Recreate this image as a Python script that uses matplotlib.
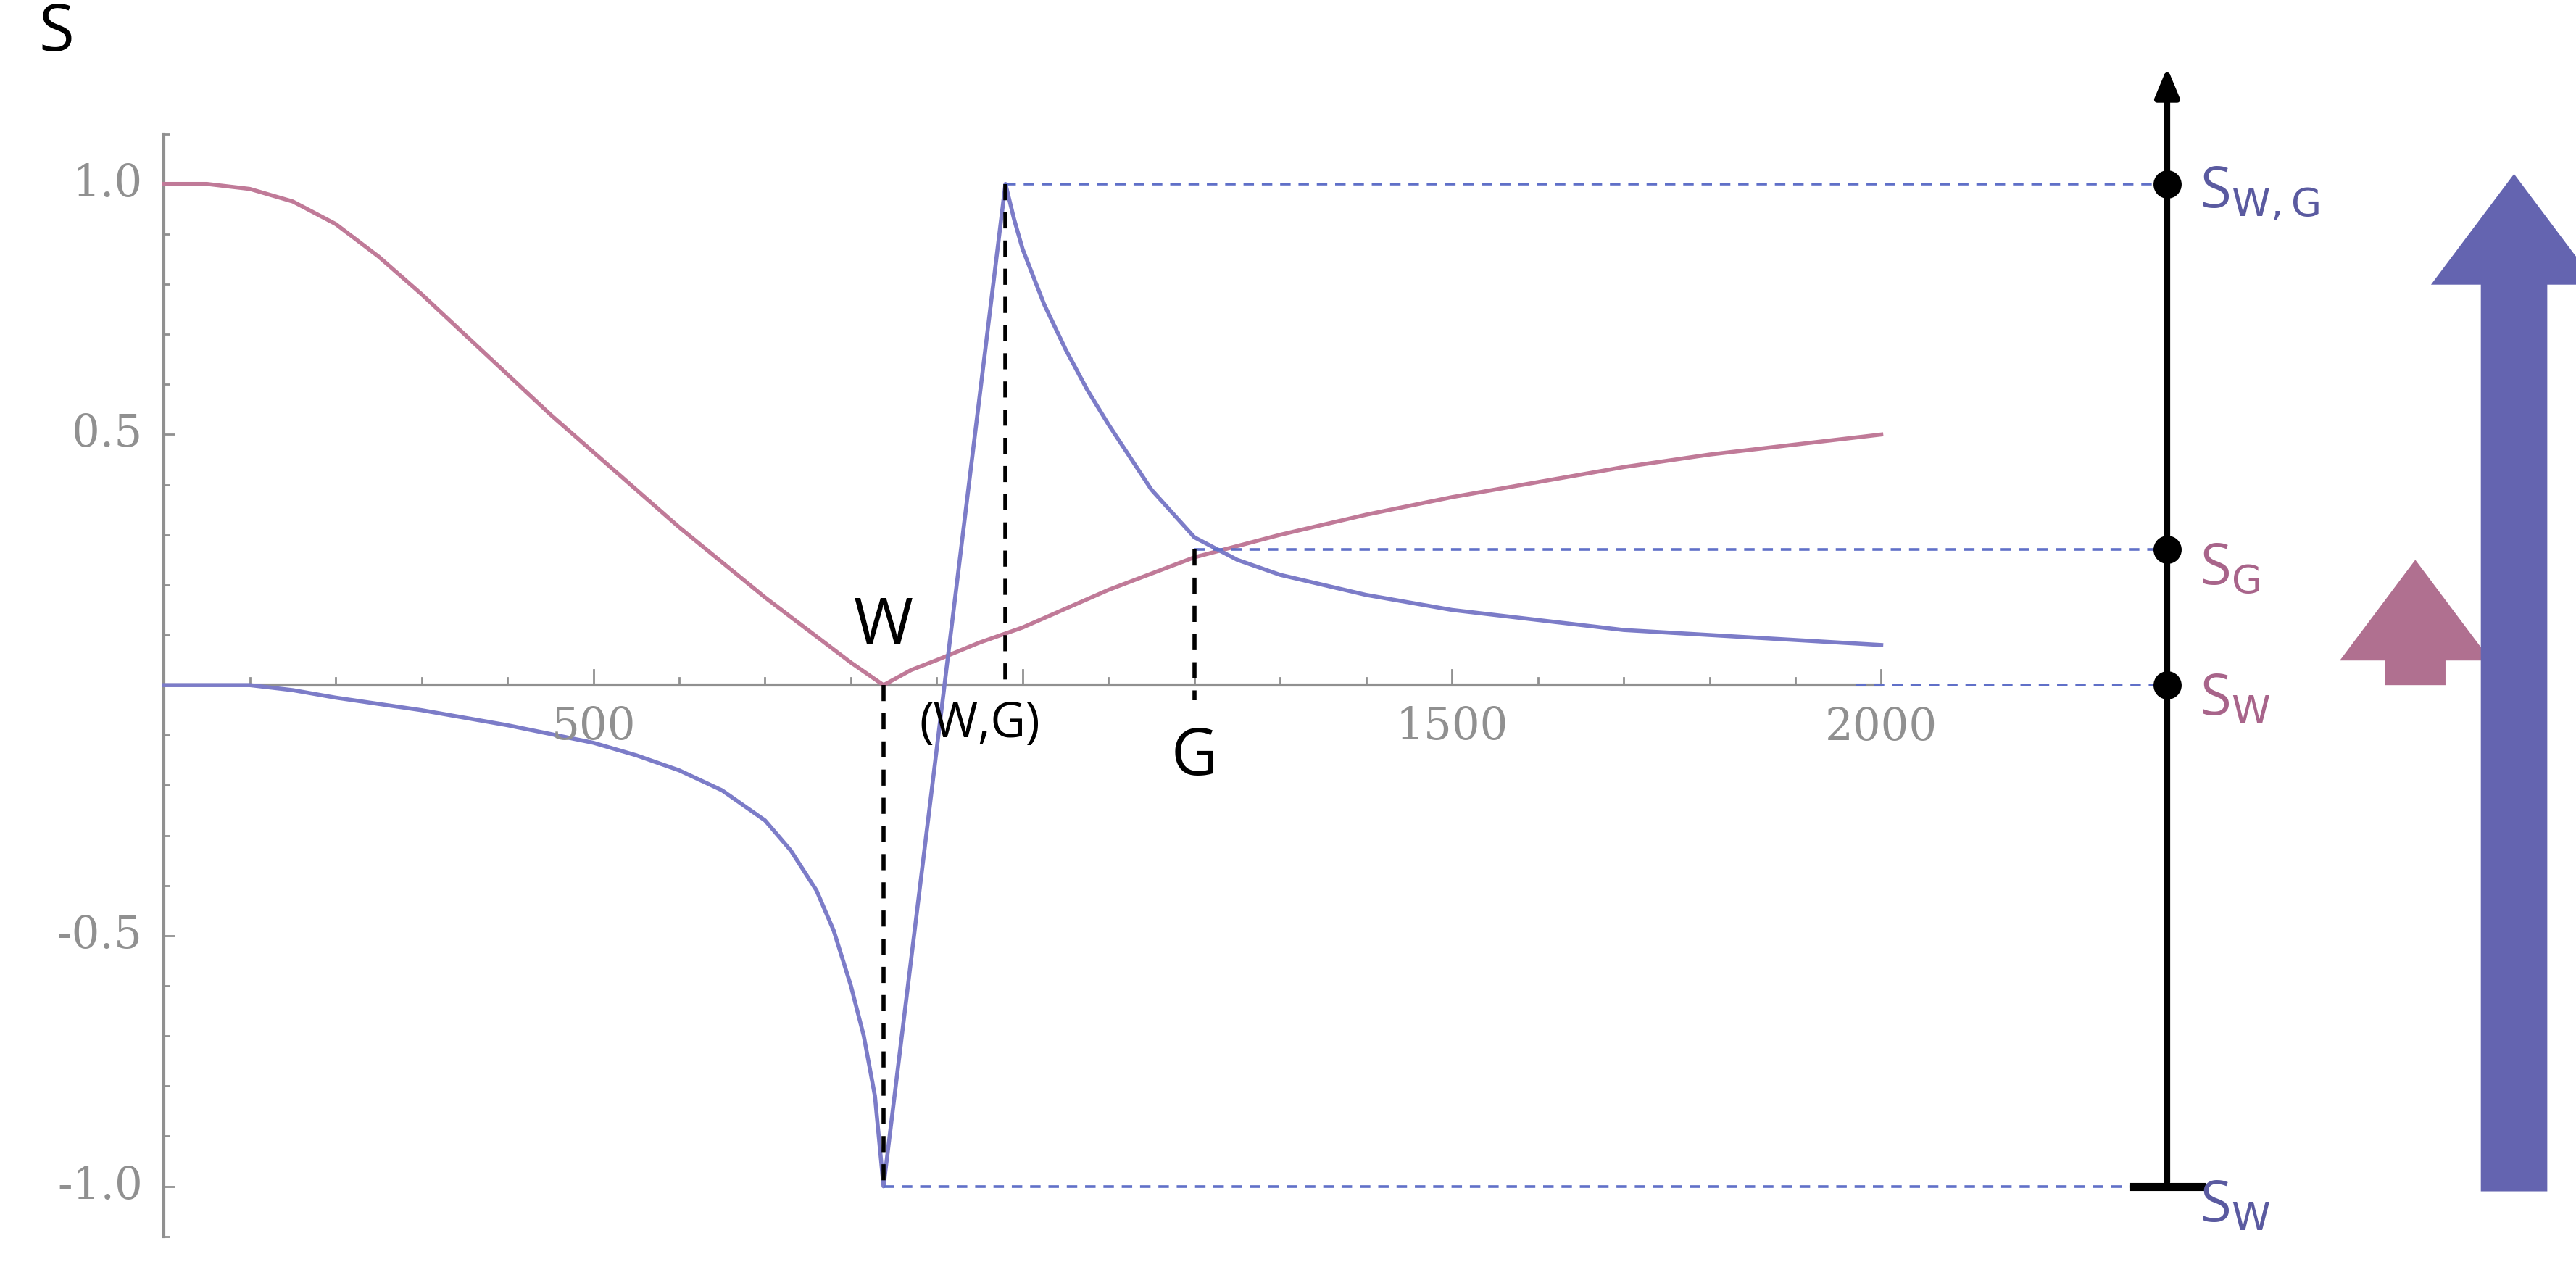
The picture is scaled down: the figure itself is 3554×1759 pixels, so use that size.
import matplotlib.pyplot as plt
import numpy as np
plt.rcParams['font.family'] = ['Open Sans', 'DejaVu Sans']

pink_x = [0,50,100,150,200,250,300,350,400,450,500,550,600,650,700,750,800,838,870,900,950,1000,1100,1200,1300,1400,1500,1600,1700,1800,1900,2000]
pink_y = [1,1,0.99,0.965,0.92,0.855,0.78,0.7,0.62,0.54,0.465,0.39,0.315,0.245,0.175,0.11,0.045,0,0.03,0.05,0.085,0.115,0.19,0.255,0.3,0.34,0.375,0.405,0.435,0.46,0.48,0.5]
blue_x = [0,100,150,200,300,400,500,550,600,650,700,730,760,780,800,815,828,838,980,990,1000,1025,1050,1075,1100,1150,1200,1250,1300,1400,1500,1600,1700,1800,1900,2000]
blue_y = [0,0,-0.01,-0.025,-0.05,-0.08,-0.115,-0.14,-0.17,-0.21,-0.27,-0.33,-0.41,-0.49,-0.6,-0.7,-0.82,-1,1,0.93,0.87,0.76,0.67,0.59,0.52,0.39,0.295,0.25,0.22,0.18,0.15,0.13,0.11,0.1,0.09,0.08]
xticks = [500, 1500, 2000]
yticks = [1.0, 0.5, -0.5, -1.0]
W_x, WG_x, G_x, G_y = 838, 980, 1200, 0.27
AX = 2333

PINK_L = '#c07a98'; BLUE_L = '#7c7cc8'
PINK_T = '#a8648a'; BLUE_T = '#5a5aa0'
GRAY = '#909090'

fig = plt.figure(figsize=(17.775, 8.795), dpi=200)
ax = fig.add_axes([0, 0, 1, 1])
ax.set_xlim(-191, 2810); ax.set_ylim(-1.177, 1.367)
ax.axis('off')

ax.plot([0, 2000], [0, 0], color=GRAY, lw=1.5)
ax.plot([0, 0], [-1.1, 1.1], color=GRAY, lw=1.5)
for t in range(100, 2001, 100):
    h = 0.03 if t % 500 == 0 else 0.015
    ax.plot([t, t], [0, h], color=GRAY, lw=1)
for t in np.arange(-1.1, 1.11, 0.1):
    if abs(t) < 1e-6: continue
    h = 12 if abs(round(t*10) % 5) == 0 else 6
    ax.plot([0, h], [t, t], color=GRAY, lw=1)
for t in xticks:
    ax.text(t, -0.04, str(t), ha='center', va='top', fontsize=22, color=GRAY, family='DejaVu Serif')
for t in yticks:
    ax.text(-25, t, f"{t:.1f}", ha='right', va='center', fontsize=22, color=GRAY, family='DejaVu Serif')

ax.plot(pink_x, pink_y, color=PINK_L, lw=2)
ax.plot(blue_x, blue_y, color=BLUE_L, lw=2)

kw = dict(color='#6070c8', lw=1.3, ls=(0, (4, 3)))
ax.plot([WG_x, AX], [1, 1], **kw)
ax.plot([G_x, AX], [G_y, G_y], **kw)
ax.plot([1970, AX], [0, 0], **kw)
ax.plot([W_x, AX], [-1, -1], **kw)
kb = dict(color='black', lw=2, ls=(0, (4, 3)))
ax.plot([W_x, W_x], [0, -1], **kb)
ax.plot([WG_x, WG_x], [1, 0], **kb)
ax.plot([G_x, G_x], [G_y, -0.03], **kb)

ax.text(W_x, 0.05, 'W', ha='center', va='bottom', fontsize=32)
ax.text(WG_x - 30, -0.03, '(W,G)', ha='center', va='top', fontsize=24)
ax.text(G_x, -0.08, 'G', ha='center', va='top', fontsize=32)
ax.text(-125, 1.3, 'S', ha='center', va='center', fontsize=32)

ax.annotate('', xy=(AX, 1.24), xytext=(AX, -1.0),
            arrowprops=dict(arrowstyle='-|>,head_width=0.5,head_length=1.2', color='black', lw=3))
ax.plot([AX - 40, AX + 40], [-1, -1], color='black', lw=4)
ax.plot([AX]*3, [1, G_y, 0], 'o', color='black', ms=13)
ax.text(AX + 38, 0.98, r'S$_{\mathrm{W,G}}$', color=BLUE_T, fontsize=28, va='center')
ax.text(AX + 38, 0.23, r'S$_{\mathrm{G}}$', color=PINK_T, fontsize=28, va='center')
ax.text(AX + 38, -0.03, r'S$_{\mathrm{W}}$', color=PINK_T, fontsize=28, va='center')
ax.text(AX + 38, -1.04, r'S$_{\mathrm{W}}$', color=BLUE_T, fontsize=28, va='center')

ax.annotate('', xy=(2622, 0.25), xytext=(2622, 0.0),
            arrowprops=dict(arrowstyle='simple,head_width=1.5,head_length=1.0,tail_width=0.6',
                            color='#b07090', lw=0, mutation_scale=50, shrinkA=0, shrinkB=0))
ax.annotate('', xy=(2737, 1.02), xytext=(2737, -1.01),
            arrowprops=dict(arrowstyle='simple,head_width=1.5,head_length=1.0,tail_width=0.6',
                            color='#6464b0', lw=0, mutation_scale=55, shrinkA=0, shrinkB=0))

fig.savefig('out.png', dpi=200)
